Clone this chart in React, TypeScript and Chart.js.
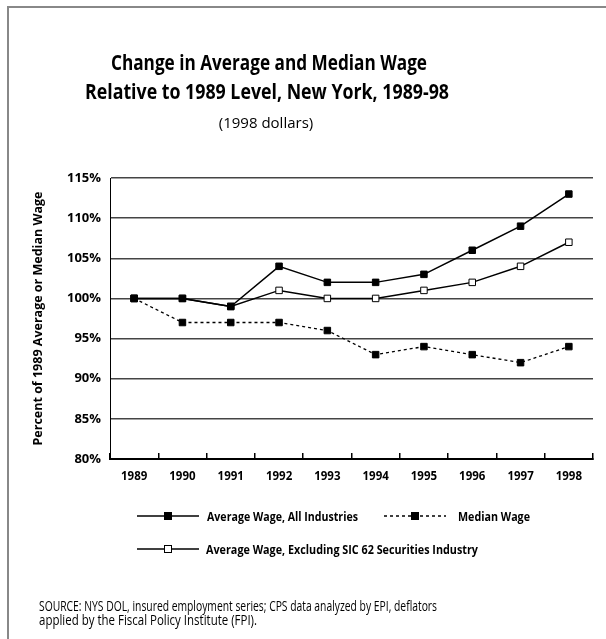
import React, { useEffect, useRef } from "react";
import { Chart, registerables } from "chart.js";

Chart.register(...registerables);

const years = ["1989", "1990", "1991", "1992", "1993", "1994", "1995", "1996", "1997", "1998"];
const avgAll = [100, 100, 99, 104, 102, 102, 103, 106, 109, 113];
const median = [100, 97, 97, 97, 96, 93, 94, 93, 92, 94];
const avgExcl = [100, 100, 99, 101, 100, 100, 101, 102, 104, 107];
const yTicks = [80, 85, 90, 95, 100, 105, 110, 115];

const titleLines = ["Change in Average and Median Wage", "Relative to 1989 Level, New York, 1989-98"];
const subtitle = "(1998 dollars)";
const yTitle = "Percent of 1989 Average or Median Wage";
const seriesNames = ["Average Wage, All Industries", "Median Wage", "Average Wage, Excluding SIC 62 Securities Industry"];
const sourceLines = [
  "SOURCE: NYS DOL, insured employment series; CPS data analyzed by EPI, deflators",
  "applied by the Fiscal Policy Institute (FPI).",
];

const FONT = "'Open Sans', 'DejaVu Sans', sans-serif";

const decorPlugin = {
  id: "decor",
  afterDraw(chart: any) {
    const ctx = chart.ctx as CanvasRenderingContext2D;
    ctx.save();
    // frame
    ctx.strokeStyle = "#888";
    ctx.lineWidth = 2;
    ctx.beginPath();
    ctx.moveTo(8, 640);
    ctx.lineTo(8, 7);
    ctx.lineTo(606, 7);
    ctx.stroke();

    // titles
    ctx.fillStyle = "#000";
    ctx.textAlign = "center";
    ctx.textBaseline = "alphabetic";
    ctx.font = `bold 22px ${FONT}`;
    ctx.fillText(titleLines[0], 269, 70, 316);
    ctx.fillText(titleLines[1], 267, 99, 364);
    ctx.font = `15px ${FONT}`;
    ctx.fillText(subtitle, 266, 128, 100);

    // legend
    const items = [
      { x: 137, y: 516, tx: 207, tw: 151, ds: 0 },
      { x: 384, y: 516, tx: 458, tw: 72, ds: 1 },
      { x: 137, y: 549, tx: 206, tw: 272, ds: 2 },
    ];
    items.forEach((it) => {
      const ds = chart.data.datasets[it.ds];
      ctx.strokeStyle = ds.borderColor;
      ctx.lineWidth = ds.borderWidth;
      ctx.setLineDash(ds.borderDash || []);
      ctx.beginPath();
      ctx.moveTo(it.x, it.y);
      ctx.lineTo(it.x + 62, it.y);
      ctx.stroke();
      ctx.setLineDash([]);
      const s = 7;
      ctx.fillStyle = ds.pointBackgroundColor;
      ctx.fillRect(it.x + 31 - s / 2, it.y - s / 2, s, s);
      ctx.strokeStyle = ds.pointBorderColor;
      ctx.lineWidth = 1;
      ctx.strokeRect(it.x + 31 - s / 2, it.y - s / 2, s, s);
      ctx.fillStyle = "#000";
      ctx.textAlign = "left";
      ctx.textBaseline = "alphabetic";
      ctx.font = `bold 12.5px ${FONT}`;
      ctx.fillText(seriesNames[it.ds], it.tx, it.y + 4.5, it.tw);
    });

    // source
    ctx.fillStyle = "#000";
    ctx.textAlign = "left";
    ctx.textBaseline = "alphabetic";
    ctx.font = `14.5px ${FONT}`;
    ctx.fillText(sourceLines[0], 39, 611, 398);
    ctx.fillText(sourceLines[1], 39, 625, 218);
    ctx.restore();
  },
};

export default function App() {
  const ref = useRef<HTMLCanvasElement>(null);
  useEffect(() => {
    const chart = new Chart(ref.current!, {
      type: "line",
      data: {
        labels: years,
        datasets: [
          {
            label: seriesNames[0],
            data: avgAll,
            borderColor: "#000",
            borderWidth: 1.5,
            pointStyle: "rect",
            pointRadius: 4.6,
            pointBackgroundColor: "#000",
            pointBorderColor: "#000",
            pointBorderWidth: 1,
            tension: 0,
          },
          {
            label: seriesNames[1],
            data: median,
            borderColor: "#000",
            borderWidth: 1.3,
            borderDash: [3, 3],
            pointStyle: "rect",
            pointRadius: 4.6,
            pointBackgroundColor: "#000",
            pointBorderColor: "#000",
            pointBorderWidth: 1,
            tension: 0,
          },
          {
            label: seriesNames[2],
            data: avgExcl,
            borderColor: "#000",
            borderWidth: 1.5,
            pointStyle: "rect",
            pointRadius: 4.6,
            pointBackgroundColor: "#fff",
            pointBorderColor: "#000",
            pointBorderWidth: 1,
            tension: 0,
          },
        ],
      } as any,
      options: {
        responsive: false,
        maintainAspectRatio: false,
        animation: false,
        layout: { padding: { top: 178, left: 8, right: 13, bottom: 140 } },
        plugins: {
          legend: { display: false },
          title: { display: false },
          tooltip: { enabled: false },
        },
        scales: {
          x: {
            offset: true,
            grid: {
              offset: true,
              drawOnChartArea: false,
              drawTicks: true,
              tickLength: -6,
              color: "#000",
              lineWidth: 1.5,
            },
            border: { color: "#000", width: 2 },
            ticks: {
              color: "#000",
              padding: 17,
              maxRotation: 0,
              font: { family: FONT, size: 11.5, weight: "bold" },
            },
            afterFit: (s: any) => {
              s.height = 40;
            },
          },
          y: {
            min: 80,
            max: 115,
            afterBuildTicks: (s: any) => {
              s.ticks = yTicks.map((v) => ({ value: v }));
            },
            ticks: {
              color: "#000",
              padding: 9,
              callback: (v: any) => v + "%",
              font: { family: FONT, size: 13, weight: "bold" },
            },
            grid: { drawTicks: false, color: "#444", lineWidth: 1.5 },
            border: { color: "#000", width: 1 },
            title: {
              display: true,
              text: yTitle,
              color: "#000",
              font: { family: FONT, size: 12.5, weight: "bold" },
              padding: { top: 23, bottom: 0 },
            },
            afterFit: (s: any) => {
              s.width = 102;
            },
          },
        },
      } as any,
      plugins: [decorPlugin],
    });
    return () => chart.destroy();
  }, []);
  return (
    <div style={{ position: "fixed", left: 0, top: 0, width: 606, height: 639, background: "#fff" }}>
      <canvas ref={ref} width={606} height={639} style={{ width: 606, height: 639, display: "block" }} />
    </div>
  );
}
